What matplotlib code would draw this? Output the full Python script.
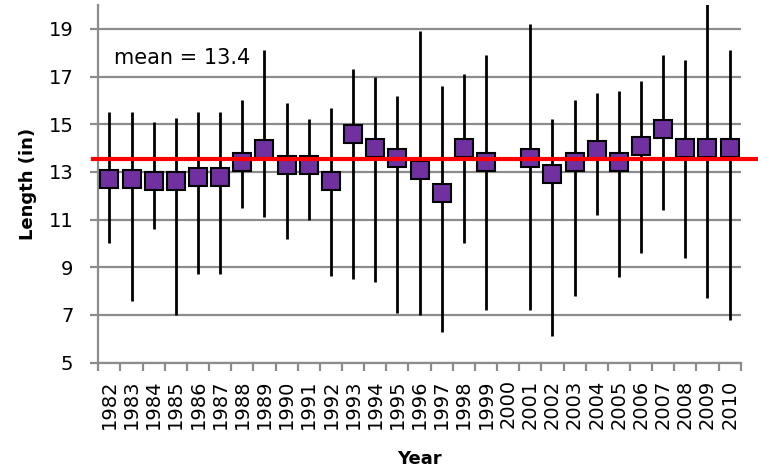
import numpy as np
import matplotlib
matplotlib.use('Agg')
import matplotlib.pyplot as plt

# Yearly length summary (square = mean, whisker = min..max)
years = [str(y) for y in range(1982, 2011)]
means = [12.7, 12.7, 12.6, 12.6, 12.8, 12.8, 13.4, 13.95, 13.3, 13.3,
         12.6, 14.6, 14.0, 13.6, 13.1, 12.1, 14.0, 13.4, np.nan, 13.6,
         12.9, 13.4, 13.9, 13.4, 14.1, 14.8, 14.0, 14.0, 14.0]
highs = [15.5, 15.5, 15.1, 15.25, 15.5, 15.5, 16.0, 18.1, 15.9, 15.2,
         15.7, 17.3, 17.0, 16.2, 18.9, 16.6, 17.1, 17.9, np.nan, 19.2,
         15.2, 16.0, 16.3, 16.4, 16.8, 17.9, 17.7, 20.2, 18.1]
lows = [10.0, 7.6, 10.6, 7.0, 8.7, 8.7, 11.5, 11.1, 10.2, 11.0,
        8.65, 8.5, 8.4, 7.1, 7.0, 6.3, 10.0, 7.2, np.nan, 7.2,
        6.1, 7.8, 11.2, 8.6, 9.6, 11.4, 9.4, 7.7, 6.8]
mean_line = 13.55
mean_label = "mean = 13.4"

plt.rcParams['font.family'] = ['DejaVu Sans']
grey = '#8c8c8c'

fig = plt.figure(figsize=(7.58, 4.72), dpi=100)
ax = fig.add_axes([0.1297, 0.2316, 0.8475, 0.7578])

x = np.arange(len(years))

ax.set_ylim(5, 20)
ax.set_xlim(-0.5, len(years) - 0.5)
ax.set_yticks(range(5, 20, 2))
ax.yaxis.grid(True, color=grey, linewidth=1.6)
ax.set_axisbelow(True)

ax.vlines(x, lows, highs, color='black', linewidth=2, zorder=2)
ax.plot(x, means, 's', markersize=12.5, markerfacecolor='#7030A0',
        markeredgecolor='black', markeredgewidth=1.5, linestyle='none',
        zorder=3)

# red mean line sticks out past the plot edges
ax.axhline(mean_line, xmin=-0.008, xmax=1.03, color='#ff0000',
           linewidth=3, zorder=4, clip_on=False)

ax.text(0.2, 17.52, mean_label, fontsize=15, va='baseline', ha='left')

for s in ['top', 'right']:
    ax.spines[s].set_visible(False)
for s in ['left', 'bottom']:
    ax.spines[s].set_color(grey)
    ax.spines[s].set_linewidth(1.6)

ax.set_xticks(x)
ax.set_xticklabels(years, rotation=90, fontsize=14)
ax.set_xticks(np.arange(-0.5, len(years), 1.0), minor=True)
ax.tick_params(axis='x', which='major', length=0, pad=12)
ax.tick_params(axis='x', which='minor', length=6, width=1.6, color=grey)
ax.tick_params(axis='y', length=6, width=1.6, color=grey, labelsize=14,
               pad=12)

ax.set_ylabel('Length (in)', fontsize=13, fontweight='bold', labelpad=8)
ax.set_xlabel('Year', fontsize=13, fontweight='bold', labelpad=15)

fig.savefig('out.png', dpi=100)
